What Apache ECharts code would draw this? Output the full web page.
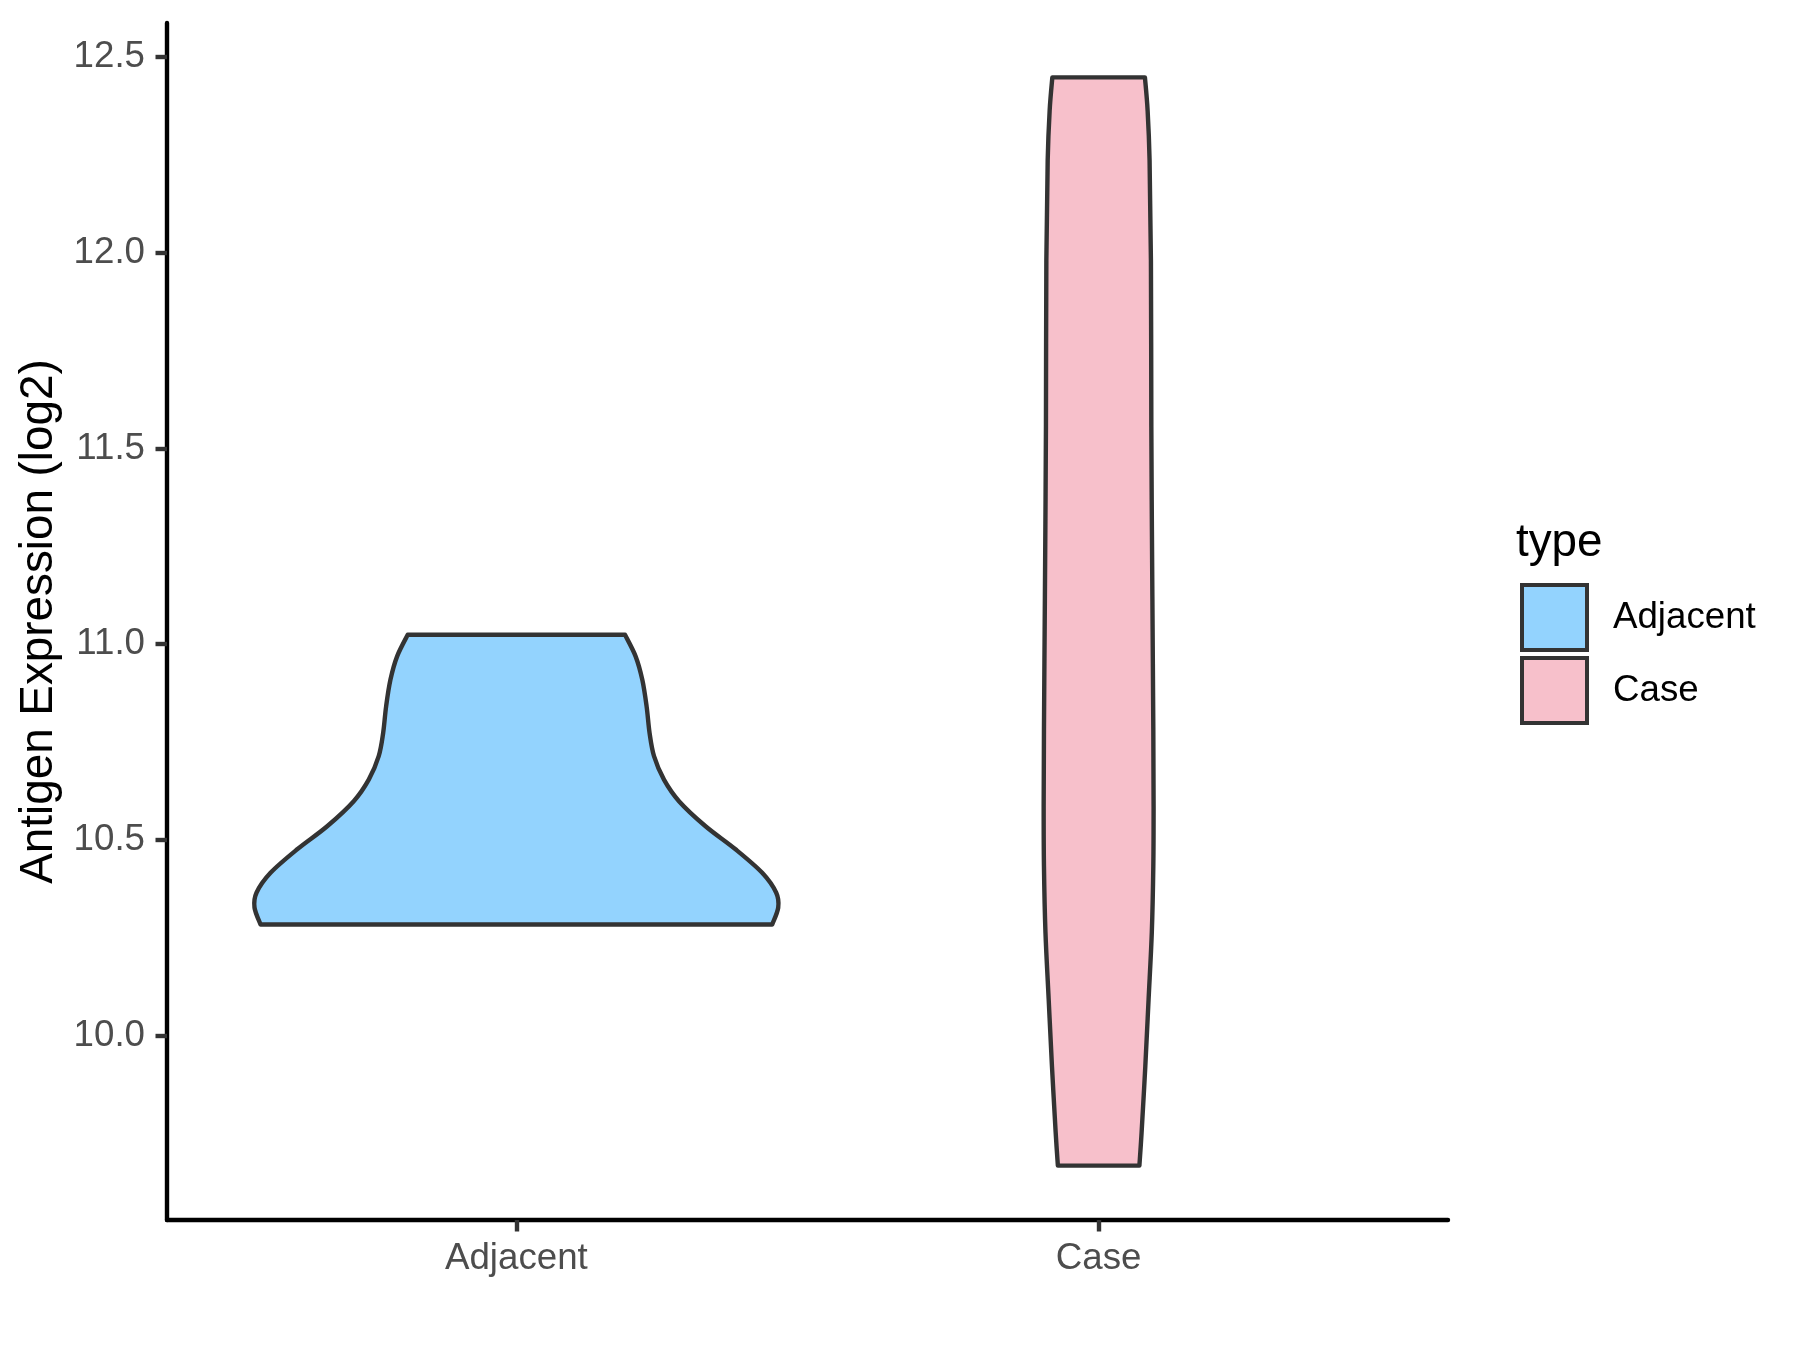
<!DOCTYPE html>
<html>
<head>
<meta charset="utf-8">
<script src="https://cdn.jsdelivr.net/npm/echarts@6/dist/echarts.min.js"></script>
<style>
  html, body { margin: 0; padding: 0; background: #ffffff; }
  #chart { width: 1800px; height: 1350px; }
</style>
</head>
<body>
<div id="chart"></div>
<script>
// ---- data ----
const categories = ['Adjacent', 'Case'];
const yTicks = [10.0, 10.5, 11.0, 11.5, 12.0, 12.5];

// violin outlines, bottom -> top: expression value and half-width (in category units)
const adjacentY = [10.284, 10.327, 10.365, 10.416, 10.476, 10.535, 10.599, 10.654, 10.714, 10.773, 10.841, 10.909, 10.969, 11.024];
const adjacentHalfWidth = [0.4394, 0.4497, 0.4463, 0.4222, 0.3764, 0.3249, 0.2793, 0.2535, 0.2364, 0.2288, 0.2237, 0.2163, 0.2048, 0.1866];

const caseY = [9.668, 9.753, 9.923, 10.093, 10.263, 10.433, 10.586, 10.782, 11.037, 11.292, 11.556, 11.981, 12.236, 12.364, 12.448];
const caseHalfWidth = [0.0700, 0.0738, 0.0802, 0.0858, 0.0913, 0.0939, 0.0944, 0.0939, 0.0927, 0.0915, 0.0905, 0.0898, 0.0875, 0.0841, 0.0795];

const fillColors = ['#93D3FE', '#F7C0CB'];
const outline = '#333333';
const FONT = "'Liberation Sans', Arial, sans-serif";

// ---- helpers ----
function catmull(points) {
  let d = '';
  for (let i = 0; i < points.length - 1; i++) {
    const p0 = points[Math.max(0, i - 1)];
    const p1 = points[i];
    const p2 = points[i + 1];
    const p3 = points[Math.min(points.length - 1, i + 2)];
    const c1x = p1[0] + (p2[0] - p0[0]) / 6, c1y = p1[1] + (p2[1] - p0[1]) / 6;
    const c2x = p2[0] - (p3[0] - p1[0]) / 6, c2y = p2[1] - (p3[1] - p1[1]) / 6;
    d += ' C' + c1x + ' ' + c1y + ' ' + c2x + ' ' + c2y + ' ' + p2[0] + ' ' + p2[1];
  }
  return d;
}

function makeRender(ys, hws, fill) {
  return function (params, api) {
    const cx = api.value(0);
    const left = ys.map((y, i) => api.coord([cx - hws[i], y]));
    const right = ys.map((y, i) => api.coord([cx + hws[i], y])).reverse();
    let d = 'M' + left[0][0] + ' ' + left[0][1];
    d += catmull(left);
    d += ' L' + right[0][0] + ' ' + right[0][1];
    d += catmull(right);
    d += ' Z';
    return {
      type: 'path',
      shape: { pathData: d },
      style: { fill: fill, stroke: outline, lineWidth: 4.4, lineJoin: 'round' }
    };
  };
}

const chart = echarts.init(document.getElementById('chart'), null, { renderer: 'canvas' });

const option = {
  animation: false,
  backgroundColor: '#ffffff',
  title: {
    text: 'type',
    left: 1516,
    top: 520,
    padding: 0,
    textStyle: { fontFamily: FONT, fontSize: 45.8, fontWeight: 'normal', color: '#000000' }
  },
  legend: {
    orient: 'vertical',
    left: 1520,
    top: 583,
    padding: 0,
    icon: 'rect',
    itemWidth: 65,
    itemHeight: 65,
    itemGap: 4,
    data: categories,
    itemStyle: { borderColor: outline, borderWidth: 4 },
    textStyle: { fontFamily: FONT, fontSize: 36.7, color: '#000000', padding: [0, 0, 0, 21] }
  },
  grid: { left: 167, right: 352, top: 23, bottom: 130, containLabel: false },
  xAxis: {
    type: 'value',
    min: 0.4,
    max: 2.6,
    splitLine: { show: false },
    axisLine: { show: true, onZero: false, lineStyle: { color: '#000000', width: 4.4 } },
    axisTick: { show: true, customValues: [1, 2], length: 11.5, lineStyle: { color: '#333333', width: 4.4 } },
    axisLabel: {
      customValues: [1, 2],
      formatter: v => categories[Math.round(v) - 1],
      margin: 20,
      fontFamily: FONT, fontSize: 36.7, color: '#4D4D4D'
    }
  },
  yAxis: {
    type: 'value',
    min: 9.529,
    max: 12.587,
    name: 'Antigen Expression (log2)',
    nameLocation: 'middle',
    nameGap: 102,
    nameTextStyle: { fontFamily: FONT, fontSize: 45.8, color: '#000000' },
    splitLine: { show: false },
    axisLine: { show: true, onZero: false, lineStyle: { color: '#000000', width: 4.4 } },
    axisTick: { show: true, customValues: yTicks, length: 11.5, lineStyle: { color: '#333333', width: 4.4 } },
    axisLabel: {
      customValues: yTicks,
      formatter: v => Number(v).toFixed(1),
      margin: 22,
      fontFamily: FONT, fontSize: 36.7, color: '#4D4D4D'
    }
  },
  series: [
    {
      name: categories[0],
      type: 'custom',
      renderItem: makeRender(adjacentY, adjacentHalfWidth, fillColors[0]),
      itemStyle: { color: fillColors[0], borderColor: outline, borderWidth: 4 },
      encode: { x: 0, y: 1 },
      data: [[1, adjacentY[0]]]
    },
    {
      name: categories[1],
      type: 'custom',
      renderItem: makeRender(caseY, caseHalfWidth, fillColors[1]),
      itemStyle: { color: fillColors[1], borderColor: outline, borderWidth: 4 },
      encode: { x: 0, y: 1 },
      data: [[2, caseY[0]]]
    }
  ]
};
chart.setOption(option);
</script>
</body>
</html>
